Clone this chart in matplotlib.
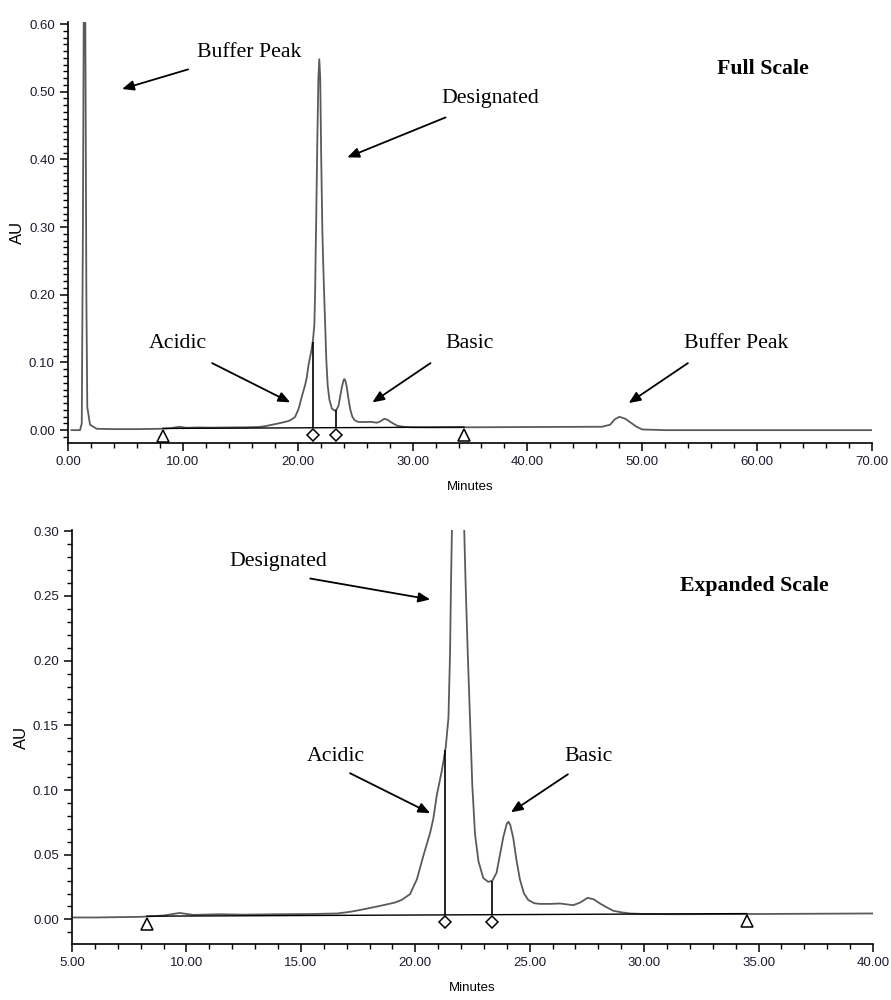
import numpy as np
import matplotlib
matplotlib.use("Agg")
import matplotlib.pyplot as plt
from matplotlib.ticker import MultipleLocator, FormatStrFormatter
from matplotlib.transforms import offset_copy

# chromatogram trace (minutes, AU)
time_min = [0.3, 1.05, 1.2, 1.3, 1.38, 1.5, 1.6, 1.68, 1.92, 2.5, 4.0, 6.0, 8.0, 9.0, 9.7,
            10.3, 11.4, 12.5, 14.0, 15.5, 16.6, 17.2, 17.7, 18.2, 18.6, 19.1, 19.4, 19.77,
            20.07, 20.35, 20.65, 20.79, 20.94, 21.16, 21.33, 21.45, 21.52, 21.56, 21.6,
            21.7, 21.8, 21.88, 21.96, 22.04, 22.14, 22.2, 22.29, 22.39, 22.49, 22.61, 22.76,
            22.97, 23.19, 23.37, 23.55, 23.7, 23.85, 24.0, 24.07, 24.15, 24.28, 24.42, 24.57,
            24.75, 24.94, 25.2, 25.45, 25.9, 26.32, 26.9, 27.2, 27.53, 27.8, 28.07, 28.4,
            28.65, 29.0, 29.38, 30.0, 31.3, 35.0, 40.0, 46.5, 47.2, 47.6, 48.0, 48.5, 49.0,
            49.5, 50.0, 52.0, 60.0, 70.0]
absorb = [0.000, 0.000, 0.010, 0.300, 0.650, 0.650, 0.200, 0.034, 0.008, 0.002, 0.0015, 0.0015,
          0.002, 0.003, 0.005, 0.0035, 0.004, 0.0037, 0.004, 0.0042, 0.0046, 0.006, 0.0077,
          0.0095, 0.011, 0.013, 0.015, 0.0195, 0.031, 0.049, 0.067, 0.078, 0.096, 0.115, 0.133,
          0.156, 0.207, 0.259, 0.300, 0.420, 0.520, 0.548, 0.520, 0.410, 0.300, 0.259, 0.207,
          0.156, 0.104, 0.066, 0.045, 0.032, 0.029, 0.030, 0.036, 0.050, 0.064, 0.074, 0.0755,
          0.073, 0.063, 0.046, 0.031, 0.020, 0.015, 0.0125, 0.012, 0.012, 0.0123, 0.011, 0.013,
          0.0167, 0.0155, 0.0123, 0.009, 0.0067, 0.0055, 0.0046, 0.0042, 0.004, 0.0042, 0.0046,
          0.005, 0.008, 0.016, 0.0197, 0.017, 0.011, 0.005, 0.001, 0.0, 0.0, 0.0]

# integration baseline and peak events
base_t = [8.27, 34.48]
base_au = [0.0025, 0.0045]
drop_t = [21.31, 23.37]

serif = "Liberation Serif"
sans = "Liberation Sans"
plt.rcParams["font.family"] = sans

fig = plt.figure(figsize=(8.91, 10), dpi=100)
ax1 = fig.add_axes([0.0763, 0.557, 0.9024, 0.421])
ax2 = fig.add_axes([0.0808, 0.056, 0.899, 0.414])


def draw_trace(ax, ymin, ymax, xmin, xmax, ymaj, xmaj, xminor):
    ax.plot(time_min, absorb, color="#5a5a5a", lw=1.3, zorder=2)
    ax.plot(base_t, base_au, color="black", lw=1.0, zorder=3)
    drop_top = np.interp(drop_t, time_min, absorb)
    drop_bot = np.interp(drop_t, base_t, base_au)
    ax.vlines(drop_t, drop_bot, drop_top, color="black", lw=1.2, zorder=3)
    tri_below = offset_copy(ax.transData, fig=fig, x=0, y=-5.5, units="points")
    dia_below = offset_copy(ax.transData, fig=fig, x=0, y=-5.0, units="points")
    ax.plot(base_t, base_au, ls="none", marker="^", ms=8.5, mfc="white", mec="black",
            mew=1.1, transform=tri_below, zorder=4, clip_on=False)
    ax.plot(drop_t, drop_bot, ls="none", marker="D", ms=6.5,
            mfc="white", mec="black", mew=1.1, transform=dia_below, zorder=4, clip_on=False)

    ax.set_xlim(xmin, xmax)
    ax.set_ylim(ymin, ymax)
    for side in ("top", "right"):
        ax.spines[side].set_visible(False)
    for side in ("left", "bottom"):
        ax.spines[side].set_linewidth(1.2)
    ax.xaxis.set_major_locator(MultipleLocator(xmaj))
    ax.xaxis.set_minor_locator(MultipleLocator(xminor))
    ax.yaxis.set_major_locator(MultipleLocator(ymaj))
    ax.yaxis.set_minor_locator(MultipleLocator(0.01))
    ax.xaxis.set_major_formatter(FormatStrFormatter("%.2f"))
    ax.yaxis.set_major_formatter(FormatStrFormatter("%.2f"))
    ax.tick_params(which="major", direction="out", length=6, width=1.1, labelsize=9.5,
                   colors="black", labelcolor="#1a1a33")
    ax.tick_params(which="minor", direction="out", length=3.5, width=1.0)
    ax.set_xlabel("Minutes", fontsize=9.5, labelpad=9)
    ax.set_ylabel("AU", fontsize=12, labelpad=3)


draw_trace(ax1, -0.019, 0.603, 0, 70, 0.10, 10, 2)
draw_trace(ax2, -0.019, 0.301, 5, 40, 0.05, 5, 1)

arrow = dict(arrowstyle="-|>,head_length=0.7,head_width=0.3", color="black", lw=1.3,
             shrinkA=0, shrinkB=0)
txt = dict(family=serif, fontsize=15.7, ha="center", va="center", color="black")

# full scale labels
ax1.text(15.8, 0.558, "Buffer Peak", **txt)
ax1.annotate("", xy=(4.71, 0.504), xytext=(10.46, 0.533), arrowprops=arrow)
ax1.text(36.8, 0.490, "Designated", **txt)
ax1.annotate("", xy=(24.32, 0.403), xytext=(32.87, 0.462), arrowprops=arrow)
ax1.text(60.5, 0.533, "Full Scale", fontweight="bold", **txt)
ax1.text(9.59, 0.1285, "Acidic", **txt)
ax1.annotate("", xy=(19.35, 0.041), xytext=(12.55, 0.099), arrowprops=arrow)
ax1.text(34.96, 0.1285, "Basic", **txt)
ax1.annotate("", xy=(26.5, 0.041), xytext=(31.56, 0.099), arrowprops=arrow)
ax1.text(58.15, 0.1285, "Buffer Peak", **txt)
ax1.annotate("", xy=(48.82, 0.040), xytext=(53.97, 0.099), arrowprops=arrow)

# expanded scale labels
ax2.text(13.99, 0.2766, "Designated", **txt)
ax2.annotate("", xy=(20.65, 0.2473), xytext=(15.41, 0.2635), arrowprops=arrow)
ax2.text(16.54, 0.1261, "Acidic", **txt)
ax2.annotate("", xy=(20.65, 0.0821), xytext=(17.15, 0.1130), arrowprops=arrow)
ax2.text(27.59, 0.1261, "Basic", **txt)
ax2.annotate("", xy=(24.18, 0.0828), xytext=(26.67, 0.1122), arrowprops=arrow)
ax2.text(34.8, 0.258, "Expanded Scale", fontweight="bold", **txt)

fig.savefig("out.png", dpi=100)
